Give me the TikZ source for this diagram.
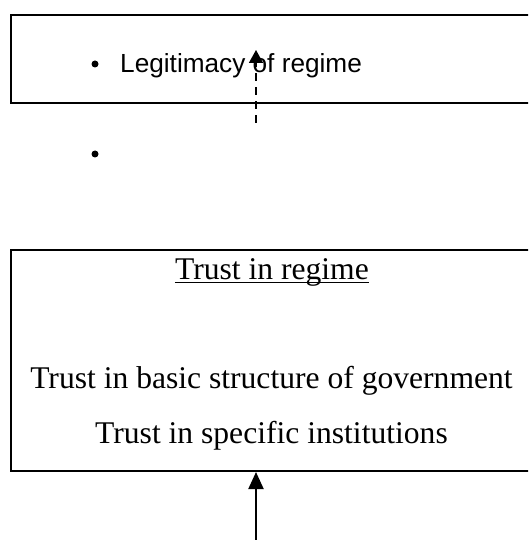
\documentclass[tikz,border=0pt]{standalone}
\usepackage{fontspec}
\setmainfont{Liberation Serif}
\newfontfamily\arialfont{Liberation Sans}
\usetikzlibrary{arrows.meta}
\begin{document}
\begin{tikzpicture}[x=1pt,y=-1pt,
  boxstyle/.style={draw, line width=2pt, rectangle, inner sep=0pt, anchor=north west},
  bulletdot/.style={circle, fill, inner sep=0pt, minimum size=7pt},
  sanstext/.style={inner sep=0pt, anchor=base west, font=\arialfont\fontsize{26.2}{31}\selectfont},
  seriftext/.style={inner sep=0pt, anchor=base, font=\fontsize{31.6}{38}\selectfont},
  conn/.style={line width=2pt}
]
\path[use as bounding box] (0,0) rectangle (528,540);
\clip (0,0) rectangle (528,540);

% top box
\node[boxstyle, minimum width=540pt, minimum height=88pt] (topbox) at (10,14) {};
\node[bulletdot] (b1) at (95,64) {};
\node[sanstext] (legit) at (120,73) {Legitimacy of regime};
\node[bulletdot] (b2) at (95,154) {};

% dashed arrow
\coordinate (d1) at (256,123);
\coordinate (d2) at (256,50);
\draw[line width=1.6pt, dash pattern=on 8pt off 6pt, -{Triangle[width=14pt,length=13pt]}] (d1) -- (d2);

% bottom box
\node[boxstyle, minimum width=540pt, minimum height=221pt] (botbox) at (10,249) {};
\node[seriftext] (title) at (272,279) {Trust in regime};
\draw[line width=1.3pt] ([yshift=-3.5pt]title.base west) -- ([yshift=-3.5pt]title.base east);
\node[seriftext] (basic) at (271.5,388) {Trust in basic structure of government};
\node[seriftext] (spec) at (271.5,443) {Trust in specific institutions};

% solid arrow
\coordinate (s1) at (256,541);
\draw[conn, -{Triangle[width=15pt,length=17pt]}] (s1) -- (s1 |- botbox.south);
\end{tikzpicture}
\end{document}
